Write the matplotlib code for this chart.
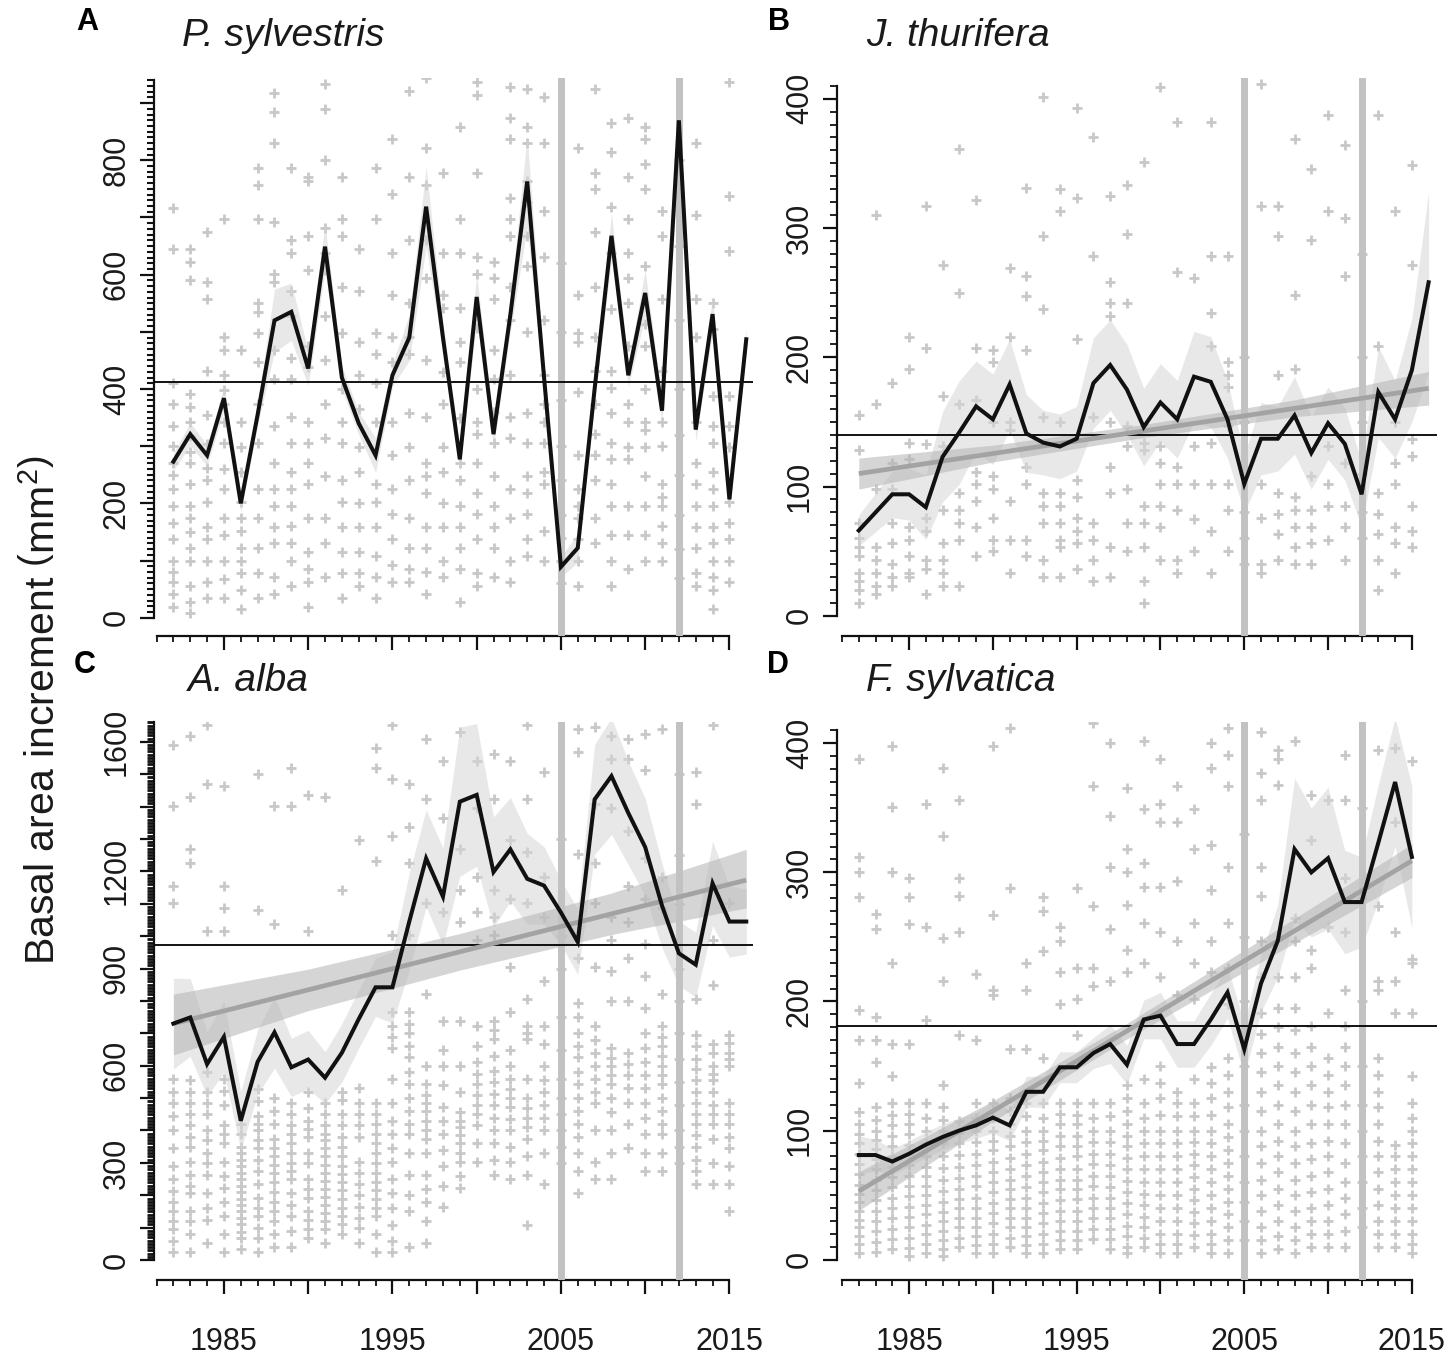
import matplotlib
matplotlib.use('Agg')
import matplotlib.pyplot as plt
from matplotlib.ticker import FixedLocator, FixedFormatter

plt.rcParams['font.family'] = ['Liberation Sans', 'DejaVu Sans']
plt.rcParams['mathtext.fontset'] = 'custom'
plt.rcParams['mathtext.rm'] = 'Liberation Sans'

# ---------------- data ----------------
point_years = list(range(1982, 2016))
line_years_abc = list(range(1982, 2017))
line_years_d = list(range(1982, 2016))

species = ["P. sylvestris", "J. thurifera", "A. alba", "F. sylvatica"]
letters = ["A", "B", "C", "D"]

# mean BAI chronologies (black lines)
mean_a = [273, 321, 284, 384, 200, 355, 520, 535, 436, 649, 420, 340, 284, 424, 490, 719, 490, 277,
          561, 321, 530, 763, 420, 89, 122, 400, 668, 424, 568, 362, 870, 329, 531, 207, 487]
mean_b = [66, 80, 94, 94, 84, 123, 142, 162, 152, 179, 141, 134, 131, 137, 180, 194, 175, 146,
          165, 152, 185, 181, 152, 102, 137, 137, 155, 126, 149, 133, 94, 173, 152, 190, 258]
mean_c = [730, 749, 605, 689, 430, 612, 703, 595, 619, 563, 640, 744, 842, 842, 1045, 1240, 1122, 1415,
          1436, 1198, 1268, 1177, 1156, 1073, 982, 1422, 1494, 1380, 1275, 1094, 947, 912, 1163, 1045, 1045]
mean_d = [81, 81, 76, 82, 89, 95, 100, 104, 110, 104, 130, 130, 149, 149, 160, 167, 151, 186,
          189, 167, 167, 186, 207, 163, 214, 247, 318, 300, 311, 277, 277, 323, 370, 312]

# half widths of the shaded band around the black lines
band_a = [15, 20, 18, 20, 15, 18, 55, 50, 30, 40, 20, 20, 30, 20, 40, 70, 25, 20, 40, 20, 30, 80, 25, 18,
          25, 20, 40, 20, 40, 20, 45, 20, 30, 20, 20]
band_b = [12, 15, 18, 20, 25, 35, 40, 35, 35, 35, 30, 25, 25, 25, 35, 35, 35, 30, 30, 30, 35, 35, 30, 22,
          28, 25, 30, 28, 28, 28, 25, 35, 30, 40, 70]
band_c = [140, 120, 100, 110, 90, 100, 110, 90, 90, 80, 90, 90, 90, 110, 150, 150, 150, 230, 220, 170,
          160, 140, 120, 100, 100, 170, 180, 160, 150, 130, 100, 100, 130, 110, 100]
band_d = [15, 12, 10, 10, 10, 10, 10, 10, 12, 12, 12, 12, 12, 12, 12, 15, 15, 15, 18, 18, 18, 20, 20, 20,
          22, 28, 55, 50, 55, 40, 35, 45, 50, 55]

# overall means (horizontal lines)
overall = [412, 140, 973, 181]

# linear trends and their confidence bands
trend_years_b = [1982, 2016]
trend_b = [110, 176]
trend_band_years_b = [1982, 1990, 1999, 2008, 2016]
trend_lo_b = [98, 119, 138, 154, 163]
trend_hi_b = [122, 132, 148, 167, 189]

trend_years_c = [1982, 2016]
trend_c = [730, 1173]
trend_band_years_c = [1982, 1990, 1999, 2008, 2016]
trend_lo_c = [633, 770, 895, 1005, 1087]
trend_hi_c = [821, 898, 1008, 1133, 1268]

trend_years_d = [1982, 2015]
trend_d = [53, 309]
trend_band_years_d = [1982, 1990, 1998, 2007, 2015]
trend_lo_d = [38, 107, 171, 238, 296]
trend_hi_d = [68, 123, 183, 256, 322]

# individual tree values per year (grey crosses), 1982-2015
trees_a = [
    [716, 645, 410, 373, 336, 300, 270, 250, 225, 196, 166, 137, 100, 80, 63, 41, 19],
    [645, 623, 590, 391, 369, 343, 317, 290, 270, 233, 196, 174, 150, 122, 100, 56, 27, 8],
    [675, 587, 557, 432, 354, 303, 262, 240, 203, 159, 137, 100, 63, 34],
    [697, 491, 468, 424, 398, 373, 343, 306, 260, 225, 174, 144, 100, 67, 34],
    [468, 343, 299, 255, 203, 174, 152, 122, 100, 78, 49, 15],
    [786, 756, 697, 550, 535, 498, 447, 373, 306, 225, 174, 122, 78, 34],
    [918, 885, 830, 693, 601, 587, 468, 417, 336, 270, 225, 196, 159, 130, 71, 41],
    [786, 660, 638, 572, 527, 454, 417, 351, 306, 255, 225, 196, 160, 130, 100, 56],
    [771, 763, 667, 609, 476, 439, 343, 306, 270, 233, 174, 115, 85, 63, 19],
    [933, 889, 800, 682, 638, 609, 527, 450, 373, 314, 248, 174, 130, 71],
    [771, 697, 667, 579, 498, 400, 343, 306, 240, 203, 159, 115, 78, 34],
    [645, 572, 483, 424, 365, 299, 255, 200, 159, 115, 78, 56],
    [786, 697, 498, 461, 410, 343, 233, 203, 159, 108, 71, 34],
    [837, 741, 638, 564, 491, 447, 343, 284, 225, 181, 137, 93, 63],
    [922, 771, 660, 550, 491, 461, 358, 299, 240, 174, 122, 85, 63],
    [944, 822, 756, 660, 594, 450, 351, 270, 248, 218, 159, 122, 80, 41],
    [777, 638, 564, 542, 430, 373, 299, 255, 200, 159, 100, 71],
    [859, 697, 638, 542, 483, 447, 350, 270, 240, 196, 159, 122, 85, 27],
    [937, 915, 777, 631, 601, 506, 400, 343, 321, 270, 218, 181, 137, 78, 56],
    [623, 594, 557, 468, 417, 360, 306, 248, 196, 159, 122, 71],
    [929, 874, 837, 734, 697, 667, 579, 520, 424, 351, 314, 225, 174, 100, 63],
    [925, 859, 830, 763, 727, 667, 616, 500, 358, 306, 248, 218, 181, 137, 108],
    [911, 830, 712, 631, 520, 424, 373, 343, 306, 255, 233, 152, 100],
    [620, 500, 380, 300, 240, 180, 140, 100, 60],
    [822, 564, 498, 483, 395, 284, 225, 196, 174, 137, 100, 56],
    [925, 777, 749, 675, 579, 491, 432, 373, 321, 284, 240, 174, 130],
    [866, 815, 719, 638, 540, 432, 402, 358, 306, 277, 233, 196, 144, 100, 56],
    [874, 771, 697, 638, 594, 550, 476, 373, 343, 299, 277, 196, 144, 85],
    [859, 837, 793, 749, 616, 513, 476, 400, 343, 329, 299, 248, 196, 144, 100],
    [712, 667, 557, 432, 343, 300, 233, 211, 196, 160, 130, 100],
    [800, 650, 520, 400, 320, 250, 180, 120, 70],
    [830, 705, 557, 491, 343, 270, 233, 196, 159, 122, 78, 56],
    [550, 505, 388, 336, 306, 255, 225, 196, 159, 130, 100, 71, 49, 15],
    [937, 737, 642, 388, 336, 299, 203, 166, 137, 100, 63],
]

trees_b = [
    [155, 128, 72, 60, 53, 46, 33, 27, 20, 10],
    [310, 164, 98, 53, 43, 33, 23, 17],
    [180, 118, 98, 72, 56, 40, 30, 23],
    [216, 191, 134, 121, 69, 59, 46, 33, 30],
    [317, 207, 133, 76, 66, 43, 36, 17],
    [271, 170, 131, 82, 56, 43, 33, 23],
    [361, 250, 164, 95, 82, 72, 59, 23],
    [322, 207, 167, 111, 102, 89, 69, 46],
    [206, 196, 150, 108, 98, 76, 59, 50],
    [269, 216, 150, 144, 89, 59, 33],
    [331, 263, 247, 206, 115, 102, 59, 46],
    [401, 294, 237, 154, 95, 85, 72, 43, 30],
    [330, 313, 150, 95, 85, 72, 59, 53, 30],
    [393, 323, 214, 105, 92, 76, 66, 56, 36],
    [370, 278, 154, 72, 59, 43, 27],
    [325, 258, 242, 232, 150, 115, 95, 53, 30],
    [333, 295, 242, 147, 131, 98, 72, 50],
    [351, 134, 128, 85, 72, 53, 27, 10],
    [409, 131, 118, 102, 85, 69, 43],
    [382, 266, 150, 115, 102, 82, 43, 33],
    [261, 131, 102, 75, 50],
    [382, 278, 234, 209, 134, 102, 66, 33],
    [278, 196, 186, 177, 147, 102, 82, 50],
    [200, 150, 110, 80, 60, 40],
    [411, 317, 102, 76, 40, 33],
    [317, 294, 186, 95, 79, 63, 43],
    [369, 248, 191, 92, 82, 69, 53, 40],
    [346, 291, 108, 82, 69, 56, 40],
    [387, 313, 131, 102, 85, 59],
    [364, 308, 263, 118, 85, 69, 43],
    [280, 200, 150, 110, 80, 60],
    [387, 209, 95, 79, 63, 43, 20],
    [313, 150, 118, 102, 69, 56, 33],
    [349, 271, 137, 124, 85, 66, 53],
]

trees_c = [
    [1589, 1401, 1156, 1101, 560, 520, 486, 444, 402, 346, 290, 250, 214, 180, 151, 120, 95, 60, 25],
    [1617, 1429, 1268, 1226, 556, 520, 486, 450, 416, 380, 350, 304, 263, 230, 207, 151, 120, 81, 25],
    [1652, 1471, 1017, 580, 520, 486, 450, 402, 370, 332, 300, 263, 207, 160, 123, 53],
    [1464, 1156, 1087, 1017, 560, 521, 480, 416, 390, 360, 304, 260, 221, 180, 137, 80, 25],
    [420, 388, 350, 330, 310, 290, 270, 250, 230, 210, 190, 170, 150, 130, 110, 88, 67, 35],
    [1499, 1080, 528, 490, 444, 420, 400, 370, 346, 310, 276, 235, 193, 160, 137, 100, 67, 25],
    [1401, 1038, 500, 460, 420, 374, 345, 320, 295, 270, 240, 210, 180, 151, 120, 81, 40],
    [1520, 1401, 486, 450, 416, 390, 360, 330, 300, 275, 250, 207, 170, 137, 90, 39],
    [1436, 1017, 520, 470, 430, 405, 380, 332, 300, 249, 220, 193, 150, 123, 95, 67],
    [1429, 486, 450, 416, 390, 370, 345, 320, 295, 270, 245, 220, 195, 170, 145, 120, 95, 53],
    [1142, 520, 493, 450, 416, 380, 350, 320, 290, 265, 240, 215, 190, 160, 137, 110, 81],
    [1296, 530, 486, 450, 416, 380, 304, 270, 235, 200, 165, 130, 100, 53],
    [1582, 1520, 1233, 486, 450, 420, 390, 360, 330, 300, 270, 240, 215, 190, 160, 137, 80, 25],
    [1652, 1485, 1310, 1003, 765, 723, 690, 654, 560, 486, 430, 388, 345, 304, 250, 207, 160, 109, 60, 25],
    [1471, 1338, 1226, 1003, 765, 730, 700, 660, 626, 580, 542, 500, 460, 420, 388, 330, 263, 200, 151, 39],
    [1610, 1422, 1101, 821, 600, 542, 510, 486, 460, 430, 400, 374, 330, 263, 220, 179, 120, 53],
    [1541, 1366, 1073, 737, 650, 598, 540, 472, 430, 388, 340, 290, 230, 165],
    [1631, 1268, 1142, 1045, 737, 600, 520, 458, 430, 410, 385, 360, 330, 304, 260, 221],
    [1541, 1394, 1184, 1073, 989, 723, 660, 612, 575, 542, 510, 480, 450, 416, 360, 304],
    [1561, 1422, 1142, 1059, 1003, 737, 710, 682, 630, 584, 550, 514, 480, 440, 400, 360, 310, 263],
    [1541, 1296, 1115, 905, 765, 650, 598, 560, 528, 500, 472, 435, 400, 350, 304, 249],
    [1652, 1422, 1261, 1101, 807, 723, 700, 682, 560, 500, 470, 440, 410, 374, 320, 263, 109],
    [1506, 1184, 1059, 863, 723, 668, 600, 556, 520, 480, 440, 402, 330, 235],
    [1300, 1000, 900, 750, 650, 560, 500, 450, 400, 350, 300],
    [1638, 1568, 1254, 933, 793, 750, 700, 660, 626, 580, 542, 500, 460, 420, 380, 330, 276, 207],
    [1645, 1408, 1226, 1101, 905, 723, 680, 640, 600, 560, 520, 486, 400, 304, 249],
    [1617, 1547, 1394, 1059, 989, 891, 800, 654, 625, 600, 570, 542, 500, 458, 400, 332, 249],
    [1610, 1547, 1324, 1156, 1045, 933, 800, 640, 605, 570, 530, 486, 420, 346],
    [1624, 1513, 1240, 1115, 975, 877, 779, 700, 654, 610, 570, 530, 486, 440, 388, 330, 276],
    [1638, 1184, 1087, 821, 723, 690, 660, 630, 598, 570, 542, 500, 460, 420, 388, 330, 276],
    [1500, 1250, 1100, 900, 800, 700, 620, 550, 480, 400, 350, 300],
    [1506, 1408, 807, 696, 660, 620, 590, 556, 520, 486, 450, 420, 385, 350, 310, 276, 235],
    [1652, 989, 850, 668, 640, 598, 575, 556, 520, 480, 450, 420, 374, 300, 235],
    [1101, 696, 670, 640, 620, 598, 486, 450, 420, 380, 346, 290, 235, 151],
]

trees_d = [
    [388, 312, 300, 281, 193, 170, 137, 114, 105, 97, 90, 82, 74, 66, 58, 51, 45, 38, 31, 25, 18, 12, 5],
    [268, 256, 188, 170, 153, 118, 108, 100, 93, 86, 78, 70, 62, 54, 46, 38, 30, 22, 14, 6],
    [398, 351, 300, 230, 167, 142, 121, 112, 104, 96, 88, 80, 72, 64, 56, 48, 40, 32, 24, 16, 8],
    [296, 281, 260, 167, 121, 113, 105, 97, 89, 81, 73, 65, 57, 49, 41, 33, 25, 17, 9, 3],
    [353, 258, 186, 121, 110, 100, 90, 80, 72, 65, 57, 50, 42, 35, 27, 20, 12, 5],
    [381, 328, 249, 216, 135, 118, 108, 100, 90, 80, 71, 62, 53, 45, 37, 30, 22, 15, 8, 3],
    [356, 296, 282, 254, 174, 107, 98, 90, 81, 72, 63, 55, 47, 40, 32, 25, 17, 10],
    [221, 170, 121, 110, 100, 91, 82, 73, 65, 57, 48, 40, 32, 25, 18, 11, 5],
    [398, 267, 209, 205, 121, 110, 100, 92, 85, 76, 68, 60, 52, 44, 36, 28, 20, 12, 5],
    [412, 288, 163, 125, 115, 105, 96, 88, 79, 70, 62, 55, 47, 40, 32, 25, 17, 10],
    [230, 209, 163, 121, 111, 100, 91, 82, 73, 65, 56, 48, 40, 32, 25, 18, 11, 5],
    [281, 270, 239, 156, 121, 110, 100, 92, 85, 76, 68, 60, 52, 44, 36, 28, 20, 12, 5],
    [258, 247, 223, 198, 121, 113, 105, 96, 88, 79, 70, 62, 55, 46, 38, 30, 22, 15, 8],
    [288, 226, 202, 174, 121, 112, 105, 96, 88, 80, 70, 62, 55, 47, 38, 30, 22, 15, 8],
    [416, 367, 274, 226, 212, 121, 110, 100, 91, 82, 74, 65, 57, 48, 40, 32, 24, 16],
    [400, 344, 304, 256, 216, 121, 111, 100, 91, 82, 73, 65, 56, 48, 40, 32, 24, 16, 8],
    [365, 318, 300, 275, 240, 223, 135, 125, 115, 105, 96, 88, 79, 70, 61, 52, 44, 35, 26, 18, 10, 5],
    [402, 349, 307, 289, 261, 230, 140, 121, 110, 100, 90, 80, 70, 60, 51, 42, 33, 25, 17, 10],
    [388, 353, 339, 289, 254, 219, 150, 137, 125, 112, 100, 90, 80, 70, 60, 50, 40, 30, 20, 12, 5],
    [367, 339, 293, 247, 205, 130, 121, 111, 100, 90, 80, 70, 60, 50, 40, 30, 20, 12, 5],
    [349, 318, 261, 230, 202, 140, 121, 111, 100, 91, 82, 73, 64, 55, 46, 37, 28, 19, 10],
    [400, 381, 321, 286, 247, 223, 149, 137, 125, 112, 100, 90, 80, 70, 60, 50, 40, 30, 20, 12, 5],
    [412, 391, 367, 304, 261, 226, 198, 156, 143, 130, 118, 105, 95, 85, 75, 65, 55, 45, 35, 25, 15, 5],
    [330, 250, 200, 150, 120, 100, 80, 60, 45, 30, 15],
    [409, 377, 356, 304, 282, 247, 219, 191, 175, 160, 145, 130, 115, 100, 88, 75, 62, 50, 38, 25, 15, 5],
    [395, 388, 368, 219, 195, 180, 165, 150, 135, 120, 105, 92, 80, 68, 55, 42, 30, 18, 8],
    [402, 265, 247, 219, 195, 178, 160, 145, 130, 115, 100, 88, 75, 62, 50, 38, 25, 15, 5],
    [360, 325, 240, 226, 181, 165, 150, 135, 120, 105, 90, 78, 65, 52, 40, 30, 20, 10],
    [356, 258, 191, 156, 143, 130, 118, 105, 92, 80, 68, 55, 42, 30, 20, 10],
    [391, 356, 296, 254, 209, 181, 165, 150, 135, 120, 105, 90, 75, 60, 48, 35, 22, 10],
    [350, 280, 200, 150, 120, 100, 80, 60, 40, 25],
    [395, 274, 216, 209, 156, 143, 130, 118, 105, 92, 80, 68, 55, 42, 30, 20, 10],
    [396, 339, 254, 216, 191, 89, 80, 70, 60, 50, 40, 30, 20, 10],
    [386, 233, 230, 191, 142, 121, 110, 100, 90, 80, 70, 60, 50, 40, 30, 20, 12, 5],
]

event_years = [2005, 2012]
x_major = [1985, 1990, 1995, 2000, 2005, 2010, 2015]
x_major_labels = ["1985", "", "1995", "", "2005", "", "2015"]
x_minor = list(range(1981, 2016))

# ---------------- figure ----------------
W, H = 1450, 1360
fig = plt.figure(figsize=(W / 100, H / 100), dpi=100)
TXT = '#1a1a1a'


def add_ax(l, t, r, b):
    return fig.add_axes([l / W, 1 - b / H, (r - l) / W, (b - t) / H])


def panel(ax, trees, lyears, mean, band, hline, xlim, ylim, ymaj, ylabs, ymin_list, ytop,
          xlabels, trend=None, minor_w=1.3):
    for yr, vals in zip(point_years, trees):
        ax.plot([yr] * len(vals), vals, ls='none', marker='+', ms=6.5, mew=2.0,
                color='#c8c8c8', zorder=1)
    lo = [m - h for m, h in zip(mean, band)]
    hi = [m + h for m, h in zip(mean, band)]
    ax.fill_between(lyears, lo, hi, color='#d6d6d6', alpha=0.55, lw=0, zorder=2)
    if trend is not None:
        ty, tv, by, blo, bhi = trend
        ax.fill_between(by, blo, bhi, color='#b4b4b4', alpha=0.55, lw=0, zorder=2.5)
    for ev in event_years:
        ax.axvline(ev, color='#c2c2c2', lw=5, zorder=3)
    ax.axhline(hline, color='black', lw=1.3, zorder=4)
    if trend is not None:
        ax.plot(ty, tv, color='#a3a3a3', lw=3.4, zorder=4.5, solid_capstyle='butt')
    ax.plot(lyears, mean, color='#111111', lw=2.9, zorder=5, solid_joinstyle='miter')

    ax.set_xlim(*xlim)
    ax.set_ylim(*ylim)
    for s in ['top', 'right']:
        ax.spines[s].set_visible(False)
    ax.spines['left'].set_bounds(0, ytop)
    ax.spines['bottom'].set_bounds(1981, 2015)
    for s in ['left', 'bottom']:
        ax.spines[s].set_linewidth(1.6)
        ax.spines[s].set_color('#111111')

    ax.xaxis.set_major_locator(FixedLocator(x_major))
    ax.xaxis.set_minor_locator(FixedLocator(x_minor))
    if xlabels:
        ax.xaxis.set_major_formatter(FixedFormatter(x_major_labels))
    else:
        ax.xaxis.set_major_formatter(FixedFormatter([""] * len(x_major)))
    ax.yaxis.set_major_locator(FixedLocator(ymaj))
    ax.yaxis.set_minor_locator(FixedLocator(ymin_list))
    ax.yaxis.set_major_formatter(FixedFormatter(ylabs))
    ax.tick_params(which='major', direction='out', length=10, width=1.6, color='#111111',
                   labelsize=22, labelcolor=TXT)
    ax.tick_params(which='minor', direction='out', length=4.5, width=1.3, color='#111111')
    ax.tick_params(axis='y', which='minor', width=minor_w, length=5)
    ax.tick_params(axis='x', which='major', pad=24)
    ax.tick_params(axis='y', which='major', pad=6)
    for lab in ax.get_yticklabels():
        lab.set_rotation(90)
        lab.set_va('center')
    ax.set_facecolor('none')


xlim_left = (1980.85, 2016.4)
xlim_right = (1980.7, 2016.5)

axA = add_ax(154, 78, 753, 636)
panel(axA, trees_a, line_years_abc, mean_a, band_a, overall[0], xlim_left, (-32, 944),
      list(range(0, 1000, 100)),
      ["0", "", "200", "", "400", "", "600", "", "800", ""],
      list(range(0, 950, 10)), 940, False, minor_w=1.5)

axB = add_ax(837, 78, 1437, 636)
panel(axB, trees_b, line_years_abc, mean_b, band_b, overall[1], xlim_right, (-15.6, 416),
      [0, 100, 200, 300, 400], ["0", "100", "200", "300", "400"],
      list(range(0, 420, 10)), 410, False,
      trend=(trend_years_b, trend_b, trend_band_years_b, trend_lo_b, trend_hi_b))

axC = add_ax(154, 722, 753, 1280)
c_major = list(range(0, 1700, 100))
c_labels = ["0", "", "", "300", "", "", "600", "", "", "900", "", "", "1200", "", "", "", "1600"]
panel(axC, trees_c, line_years_abc, mean_c, band_c, overall[2], xlim_left, (-61.5, 1661),
      c_major, c_labels, list(range(0, 1670, 10)), 1660, True,
      trend=(trend_years_c, trend_c, trend_band_years_c, trend_lo_c, trend_hi_c), minor_w=2.0)

axD = add_ax(837, 722, 1437, 1280)
panel(axD, trees_d, line_years_d, mean_d, band_d, overall[3], xlim_right, (-15.8, 416.5),
      [0, 100, 200, 300, 400], ["0", "100", "200", "300", "400"],
      list(range(0, 420, 10)), 410, True,
      trend=(trend_years_d, trend_d, trend_band_years_d, trend_lo_d, trend_hi_d))

# panel letters and species names
letter_pos = [(87, 22), (779, 22), (85, 665), (778, 665)]
title_pos = [(182, 36), (866, 36), (188, 681), (866, 681)]
for (lx, ly), lt in zip(letter_pos, letters):
    fig.text(lx / W, 1 - ly / H, lt, ha='center', va='center', fontsize=22,
             fontweight='bold', color='black')
for (tx, ty), sp in zip(title_pos, species):
    fig.text(tx / W, 1 - ty / H, sp, ha='left', va='center', fontsize=28,
             fontstyle='italic', color=TXT)

fig.text(42 / W, 1 - 710 / H, r'Basal area increment $\left(\mathrm{mm}^{2}\right)$',
         rotation=90, ha='center', va='center', fontsize=29.5, color=TXT)

fig.savefig('out.png', dpi=100)
